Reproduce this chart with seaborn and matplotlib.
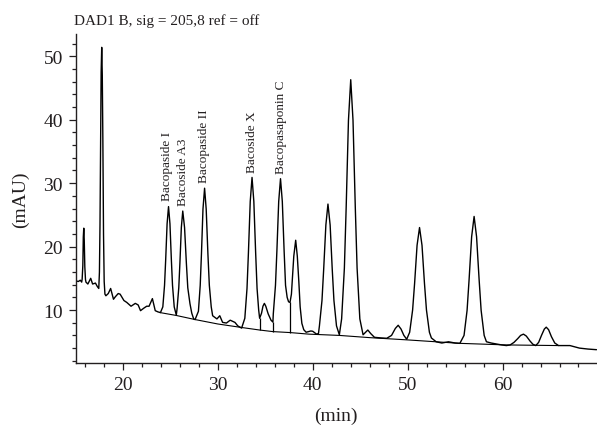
import matplotlib
matplotlib.use('Agg')
import matplotlib.pyplot as plt
import matplotlib.ticker as ticker
import seaborn as sns

# Chromatogram trace (min, mAU)
time_min = [
    15.0, 15.3, 15.5, 15.65, 15.7, 15.77, 15.82, 15.87, 15.92, 15.98, 16.05, 16.1,
    16.3, 16.6, 16.8, 17.1, 17.3, 17.45,
    17.52, 17.58, 17.65, 17.7, 17.76, 17.82, 17.88, 17.95, 18.02, 18.1,
    18.2, 18.45, 18.7, 19.0, 19.2, 19.5, 19.7, 19.9, 20.1, 20.4, 20.85, 21.3,
    21.6, 21.85, 22.2, 22.5, 22.75, 23.1, 23.4, 23.7, 23.95,
    24.2, 24.38, 24.5, 24.65, 24.8, 24.95, 25.1, 25.22, 25.4, 25.62,
    25.7, 25.88, 26.0, 26.15, 26.3, 26.49, 26.68, 26.83, 27.06, 27.25, 27.45, 27.6,
    27.95, 28.14, 28.27, 28.43, 28.6, 28.77, 28.95, 29.1, 29.3, 29.45,
    29.9, 30.2, 30.5, 30.9, 31.3, 31.8, 32.1, 32.5,
    32.84, 33.07, 33.22, 33.41, 33.6, 33.79, 33.98, 34.13, 34.3, 34.4,
    34.6, 34.75, 34.9, 35.05, 35.3, 35.6, 35.8,
    35.84, 36.07, 36.22, 36.41, 36.6, 36.79, 36.98, 37.13, 37.3, 37.45, 37.6,
    37.75, 37.87, 38.0, 38.2, 38.37, 38.53, 38.67, 38.85, 39.05, 39.3,
    39.8, 40.0, 40.4, 40.6,
    40.7, 40.97, 41.15, 41.38, 41.6, 41.83, 42.05, 42.23, 42.5, 42.8,
    43.04, 43.33, 43.52, 43.76, 44.0, 44.24, 44.48, 44.67, 44.96, 45.3,
    45.5, 45.8, 46.1, 46.5, 47.2, 47.8, 48.3, 48.7, 49.0, 49.3, 49.6, 49.9,
    50.21, 50.52, 50.73, 50.99, 51.25, 51.51, 51.77, 51.98, 52.29, 52.5,
    53.0, 53.6, 54.3, 55.0, 55.5,
    55.94, 56.26, 56.47, 56.74, 57.0, 57.26, 57.53, 57.74, 58.06, 58.3,
    58.8, 59.35, 59.9, 60.4, 60.8,
    61.2, 61.6, 61.9, 62.2, 62.5, 62.9, 63.2, 63.5,
    63.8, 64.1, 64.4, 64.6, 64.85, 65.15, 65.5, 65.9,
    66.5, 67.1, 67.6, 68.1, 69.0, 69.9,
]
signal_mau = [
    14.6, 14.5, 14.7, 14.4, 14.9, 17.0, 21.5, 22.9, 21.0, 16.8, 14.8, 14.4,
    14.1, 15.0, 14.1, 14.25, 13.7, 13.4,
    16.0, 23.5, 38.0, 47.5, 51.4, 47.0, 37.0, 22.0, 14.5, 12.5,
    12.25, 12.6, 13.4, 11.7, 12.1, 12.6, 12.5, 12.0, 11.5, 11.2, 10.6, 11.05,
    10.8, 9.9, 10.3, 10.6, 10.6, 11.8, 9.9, 9.7, 9.6,
    10.5, 13.9, 17.9, 23.6, 26.3, 23.6, 17.9, 13.9, 10.5, 9.2,
    10.2, 13.5, 17.4, 23.0, 25.6, 23.0, 17.4, 13.5, 11.0, 9.5, 8.6, 8.5,
    9.8, 13.9, 18.85, 25.9, 29.2, 25.9, 18.85, 13.9, 10.5, 9.1,
    8.6, 9.1, 8.05, 7.95, 8.4, 8.05, 7.5, 7.15,
    8.7, 13.4, 19.05, 27.1, 30.9, 27.1, 19.05, 13.4, 10.0, 8.7,
    9.5, 10.6, 11.05, 10.6, 9.4, 8.4, 8.1,
    9.4, 13.9, 19.35, 27.1, 30.7, 27.1, 19.35, 13.9, 12.0, 11.3, 11.2,
    12.5, 15.5, 18.5, 21.0, 18.5, 14.5, 10.5, 7.9, 6.9, 6.5,
    6.7, 6.65, 6.2, 6.3,
    7.5, 11.5, 16.45, 23.4, 26.7, 23.4, 16.45, 11.5, 7.5, 6.1,
    8.6, 16.6, 26.2, 39.9, 46.3, 39.9, 26.2, 16.6, 8.6, 6.1,
    6.4, 6.85, 6.3, 5.7, 5.6, 5.55, 6.0, 7.1, 7.6, 7.0, 6.0, 5.4,
    6.5, 10.0, 14.2, 20.2, 23.0, 20.2, 14.2, 10.0, 6.5, 5.6,
    5.0, 4.8, 5.0, 4.8, 4.75,
    6.0, 9.95, 14.75, 21.55, 24.75, 21.55, 14.75, 9.95, 6.0, 5.0,
    4.8, 4.65, 4.5, 4.4, 4.5,
    4.9, 5.5, 6.0, 6.2, 5.9, 5.1, 4.6, 4.4,
    4.9, 6.0, 7.0, 7.3, 6.9, 5.8, 4.8, 4.4,
    4.4, 4.4, 4.2, 4.0, 3.85, 3.75,
]

# Integration baseline
base_time = [23.9, 25.6, 27.6, 30.0, 32.5, 34.4, 35.8, 37.6, 39.6, 42.8, 46.0,
             49.9, 55.5, 60.4, 65.9]
base_mau = [9.6, 9.15, 8.5, 7.8, 7.25, 6.85, 6.6, 6.45, 6.2, 6.0, 5.65,
            5.3, 4.75, 4.5, 4.4]

# Drop lines at the unresolved valleys
drop_time = [34.4, 35.8, 37.6]
drop_top = [8.7, 8.1, 11.2]
drop_bottom = [6.85, 6.6, 6.45]

# Peak labels
peak_names = ['Bacopaside I', 'Bacoside A3', 'Bacopaside II', 'Bacoside X',
              'Bacopasaponin C']
peak_label_time = [24.65, 26.35, 28.5, 33.6, 36.6]
peak_label_mau = [27.4, 26.6, 30.1, 31.7, 31.6]

sns.set_theme(style='ticks')
plt.rcParams['font.family'] = ['Liberation Serif', 'DejaVu Serif']
text_colour = '#231f20'

fig = plt.figure(figsize=(5.97, 4.27), dpi=100)
ax = fig.add_axes([0.1265, 0.1475, 0.8735, 0.7705])

sns.lineplot(x=time_min, y=signal_mau, ax=ax, color='black', lw=1.0,
             estimator=None, sort=False)
sns.lineplot(x=base_time, y=base_mau, ax=ax, color='black', lw=0.8,
             estimator=None, sort=False)
ax.vlines(drop_time, drop_bottom, drop_top, color='black', lw=0.9)

for name, t, v in zip(peak_names, peak_label_time, peak_label_mau):
    ax.text(t, v, name, rotation=90, ha='center', va='bottom', fontsize=9.5,
            color=text_colour)

ax.set_xlim(15, 69.95)
ax.set_ylim(1.65, 53.5)
ax.xaxis.set_major_locator(ticker.MultipleLocator(10))
ax.xaxis.set_minor_locator(ticker.MultipleLocator(2))
ax.yaxis.set_major_locator(ticker.MultipleLocator(10))
ax.yaxis.set_minor_locator(ticker.MultipleLocator(2))
ax.tick_params(which='major', length=5, width=0.9, labelsize=14,
               colors=text_colour, pad=4)
ax.tick_params(which='minor', length=3, width=0.9, colors=text_colour)
sns.despine(ax=ax)
for side in ['left', 'bottom']:
    ax.spines[side].set_linewidth(1.0)
    ax.spines[side].set_color(text_colour)

ax.set_xlabel('(min)', fontsize=14, color=text_colour, labelpad=10)
ax.set_ylabel('(mAU)', fontsize=14, color=text_colour, labelpad=10)
fig.text(0.124, 0.95, 'DAD1 B, sig = 205,8 ref = off', fontsize=11,
         color=text_colour, va='center', ha='left')

plt.savefig('out.png', dpi=100)
